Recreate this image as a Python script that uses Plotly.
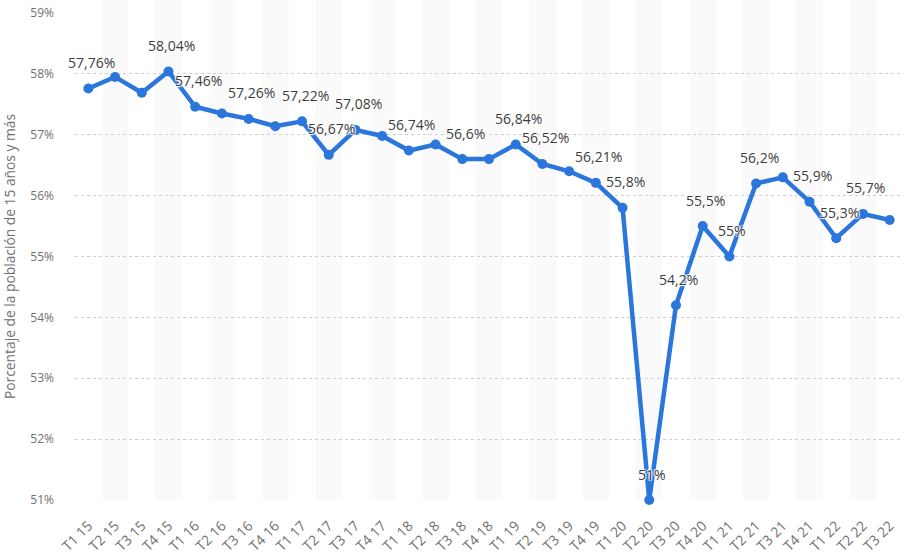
import plotly.graph_objects as go

categories = ["T1 15", "T2 15", "T3 15", "T4 15", "T1 16", "T2 16", "T3 16", "T4 16",
              "T1 17", "T2 17", "T3 17", "T4 17", "T1 18", "T2 18", "T3 18", "T4 18",
              "T1 19", "T2 19", "T3 19", "T4 19", "T1 20", "T2 20", "T3 20", "T4 20",
              "T1 21", "T2 21", "T3 21", "T4 21", "T1 22", "T2 22", "T3 22"]
values = [57.76, 57.95, 57.69, 58.04, 57.46, 57.35, 57.26, 57.14,
          57.22, 56.67, 57.08, 56.98, 56.74, 56.84, 56.6, 56.6,
          56.84, 56.52, 56.4, 56.21, 55.8, 51.0, 54.2, 55.5,
          55.0, 56.2, 56.3, 55.9, 55.3, 55.7, 55.6]
labels = ["57,76%", "", "", "58,04%", "57,46%", "", "57,26%", "",
          "57,22%", "56,67%", "57,08%", "", "56,74%", "", "56,6%", "",
          "56,84%", "56,52%", "", "56,21%", "55,8%", "51%", "54,2%", "55,5%",
          "55%", "56,2%", "", "55,9%", "55,3%", "55,7%", ""]
y_ticks = [51, 52, 53, 54, 55, 56, 57, 58, 59]
y_ticktext = [f"{t}%" for t in y_ticks]

LINE = "#2a76dc"
FONT = "Open Sans"

fig = go.Figure()
fig.add_trace(go.Scatter(
    x=categories, y=values, mode="lines+markers",
    line=dict(color=LINE, width=4.5),
    marker=dict(color=LINE, size=10),
    cliponaxis=False,
    hoverinfo="skip", showlegend=False,
))

shapes = []
for i, c in enumerate(categories):
    if i % 2 == 1:
        shapes.append(dict(type="rect", xref="x", yref="paper",
                           x0=i - 0.5, x1=i + 0.5, y0=0, y1=1.027,
                           fillcolor="#fafafa", line=dict(width=0), layer="below"))

annotations = []
shadow = "1px 1px 1px #fff, -1px -1px 1px #fff, 1px -1px 1px #fff, -1px 1px 1px #fff"
for c, v, t in zip(categories, values, labels):
    if t:
        annotations.append(dict(x=c, y=v, text=t, showarrow=False, xref="x", yref="y",
                                yshift=26, xshift=3,
                                font=dict(family=FONT, size=14, color="#3d3d3d", shadow=shadow)))

fig.update_layout(
    width=904, height=556,
    margin=dict(l=75, r=1, t=13, b=56),
    paper_bgcolor="white", plot_bgcolor="white",
    font=dict(family=FONT, color="#666"),
    shapes=shapes, annotations=annotations,
    xaxis=dict(
        type="category", range=[-0.5, len(categories) - 0.5],
        tickangle=-45, tickfont=dict(size=14, color="#707070"),
        showgrid=False, zeroline=False, showline=False, ticks="",
        automargin=False, ticklabelstandoff=14,
    ),
    yaxis=dict(
        range=[51, 59], tickvals=y_ticks, ticktext=y_ticktext,
        tickfont=dict(size=12, color="#707070"),
        showgrid=True, gridcolor="#cfcfcf", griddash="dot", gridwidth=1,
        zeroline=False, showline=False, ticks="", ticklabelstandoff=20,
        automargin=False,
        title=dict(text="Porcentaje de la población de 15 años y más",
                   font=dict(size=13.8, color="#707070"), standoff=15),
    ),
)

fig.write_html("out.html", config={"displayModeBar": False},
               post_script="document.body.style.margin='0px';")
